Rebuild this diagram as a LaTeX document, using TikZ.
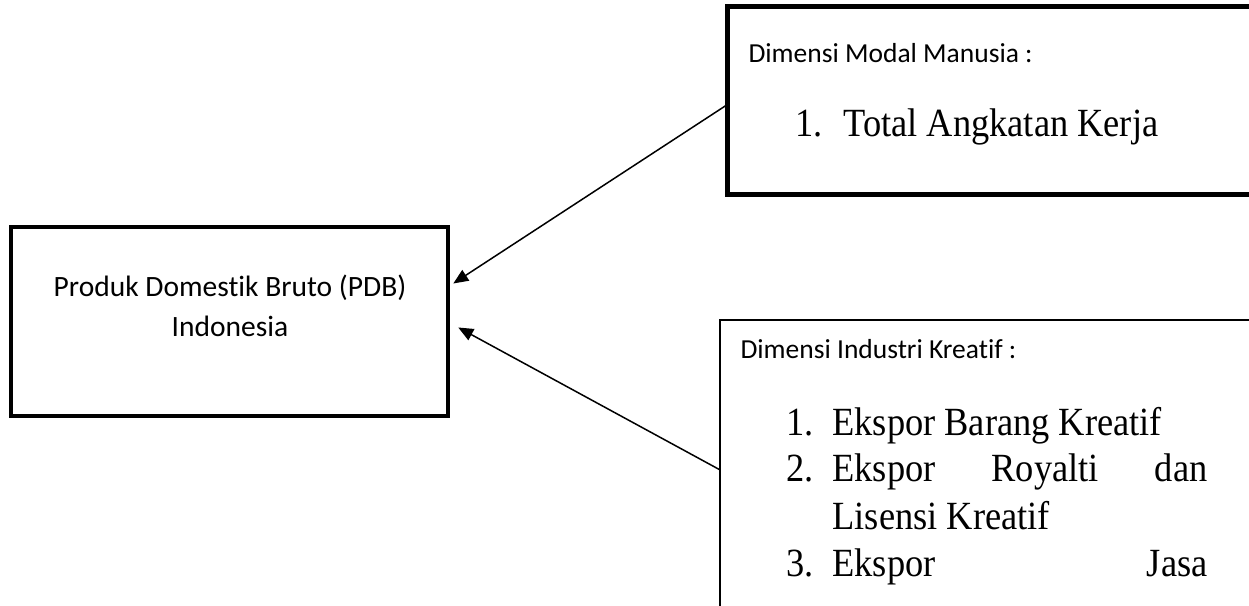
\documentclass[tikz,border=0pt]{standalone}
\usepackage{fontspec}
\setmainfont{Carlito}[Ligatures=NoCommon]
\newfontfamily\listfont{Liberation Serif}[FakeStretch=0.91]
\usetikzlibrary{arrows.meta,calc}
\begin{document}
\begin{tikzpicture}[x=0.4pt,y=-0.4pt,
  box/.style={draw, rectangle, inner sep=0pt},
  caption/.style={inner sep=0pt, anchor=base west, font=\fontsize{11}{13}\selectfont},
  centred/.style={inner sep=0pt, anchor=base, font=\fontsize{11.8}{14}\selectfont},
  item/.style={inner sep=0pt, anchor=base west, font=\listfont\fontsize{16}{19}\selectfont},
  link/.style={line width=0.6pt, -{Triangle[length=6pt,width=5pt]}}]
\useasboundingbox (0,0) rectangle (1249,606);
\fill[white] (0,0) rectangle (1249,606);
\begin{scope}
  \clip (0,0) rectangle (1249,606);
  % target box
  \node[box, line width=1.8pt, minimum width=174.8pt, minimum height=75.6pt] (pdb) at (229.5,321.5) {};
  % human capital box (runs off the right edge)
  \node[box, line width=2pt, minimum width=216.8pt, minimum height=75.2pt] (mm) at (999,101) {};
  % creative industry box (runs off the right and bottom edges)
  \node[box, line width=1pt, minimum width=220pt, minimum height=152pt] (ind) at (995,510) {};
\end{scope}

% texts
\node[centred] (pdbl1) at (230,297) {Produk Domestik Bruto (PDB)};
\node[centred] (pdbl2) at (230,337) {Indonesia};

\node[caption] (mmtitle) at (748,63) {Dimensi Modal Manusia :};
\node[item] (mmnum1) at (795,137) {1.};
\node[item] (mmitem1) at (843,137) {Total Angkatan Kerja};

\node[caption] (indtitle) at (740,359) {Dimensi Industri Kreatif :};
\node[item] (indnum1) at (786,435) {1.};
\node[item] (inditem1) at (832,435) {Ekspor Barang Kreatif};
\node[item] (indnum2) at (786,482) {2.};
\node[item] (inditem2) at (832,482) {\makebox[150pt][s]{Ekspor\hfill Royalti\hfill dan}};
\node[item] (inditem2b) at (832,529) {Lisensi Kreatif};
\node[item] (indnum3) at (786,577) {3.};
\node[item] (inditem3) at (832,577) {\makebox[150pt][s]{Ekspor\hfill Jasa}};

% connectors
\draw[link] ($(mm.north west)+(2,100)$) -- ($(pdb.east)+(3,-38)$);
\draw[link] ($(ind.north west)+(1,151)$) -- ($(pdb.east)+(8,6)$);
\end{tikzpicture}
\end{document}
